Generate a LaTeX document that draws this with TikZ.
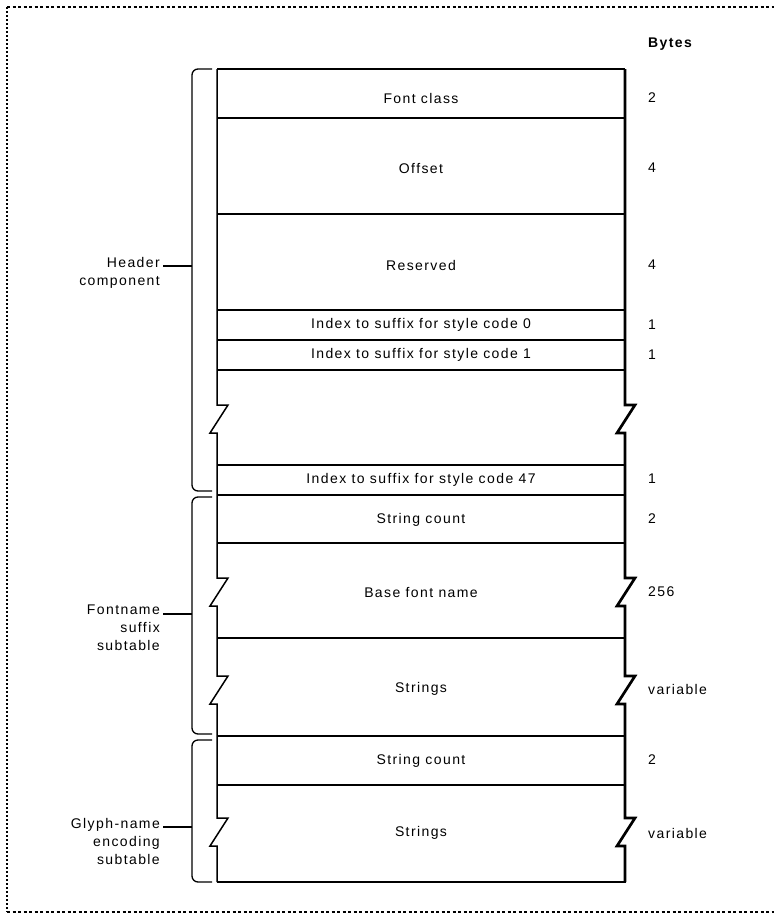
\documentclass[tikz,border=0pt]{standalone}
\usepackage{fontspec}
\setmainfont{Liberation Sans}[LetterSpace=10]
\begin{document}
\begin{tikzpicture}[x=1pt,y=-1pt,
  lbl/.style={font=\fontsize{14}{18}\selectfont, inner sep=0pt},
  cell/.style={lbl, anchor=center},
  side/.style={lbl, align=right, anchor=north east},
  bytes/.style={lbl, anchor=west},
  rowline/.style={line width=1.3pt},
  edge/.style={line width=1.5pt, line join=miter},
  heavy/.style={line width=2.7pt, line join=miter},
  brace/.style={line width=1.3pt, rounded corners=6pt},
  frameh/.style={line width=1.1pt, dash pattern=on 3pt off 2.5pt},
  framev/.style={line width=1.1pt, dash pattern=on 1.5pt off 2.5pt}]

\useasboundingbox (0,0) rectangle (774,916);

% frame
\coordinate (f1) at (7,7); \coordinate (f2) at (774,7);
\coordinate (f3) at (7,912); \coordinate (f4) at (774,912);
\draw[frameh] (f1) -- (f2);
\draw[framev] (f1) -- (f3);
\draw[frameh] (f3) -- (f4);

% table corners
\coordinate (tl) at (217,69); \coordinate (tr) at (625,69);
\coordinate (bl) at (217,882); \coordinate (br) at (625,882);

% row lines
\foreach \y in {118,214,310,340,370,465,495,543,638,736,785}
  \draw[rowline] (217,\y) -- (625,\y);

% left edge with breaks
\draw[edge] (tl) -- (217,405) -- (228,405) -- (210,433) -- (217,433)
  -- (217,578) -- (228,578) -- (210,606) -- (217,606)
  -- (217,676) -- (228,676) -- (210,704) -- (217,704)
  -- (217,818) -- (228,818) -- (210,846) -- (217,846) -- (bl);
% right edge with breaks
\draw[heavy] (tr) -- (625,405) -- (635,405) -- (617,433) -- (625,433)
  -- (625,578) -- (635,578) -- (617,606) -- (625,606)
  -- (625,676) -- (635,676) -- (617,704) -- (625,704)
  -- (625,818) -- (635,818) -- (617,846) -- (625,846) -- (br);
\draw[line width=2pt] (tl) -- (tr);
\draw[heavy] (bl) -- ([xshift=1.3pt]br);

% cell texts
\node[cell] (c1) at (421,98) {Font class};
\node[cell] (c2) at (421,168) {Offset};
\node[cell] (c3) at (421,265) {Reserved};
\node[cell] (c4) at (421,325) {Index to suffix for style code 0};
\node[cell] (c5) at (421,355) {Index to suffix for style code 1};
\node[cell] (c6) at (421,480) {Index to suffix for style code 47};
\node[cell] (c7) at (421,520) {String count};
\node[cell] (c8) at (421,592) {Base font name};
\node[cell] (c9) at (421,689) {Strings};
\node[cell] (c10) at (421,761) {String count};
\node[cell] (c11) at (421,833) {Strings};

% bytes column
\node[bytes, font=\fontsize{14}{18}\selectfont\bfseries] (bh) at (648,44) {Bytes};
\node[bytes] (b1) at (648,98) {2};
\node[bytes] (b2) at (648,168) {4};
\node[bytes] (b3) at (648,265) {4};
\node[bytes] (b4) at (648,325) {1};
\node[bytes] (b5) at (648,355) {1};
\node[bytes] (b6) at (648,479) {1};
\node[bytes] (b7) at (648,519) {2};
\node[bytes] (b8) at (648,592) {256};
\node[bytes] (b9) at (648,689) {variable};
\node[bytes] (b10) at (648,760) {2};
\node[bytes] (b11) at (648,833) {variable};

% braces
\draw[brace] (212,69) -- (192,69) -- (192,491) -- (212,491);
\draw[brace] (212,497) -- (192,497) -- (192,734) -- (212,734);
\draw[brace] (212,740) -- (192,740) -- (192,882) -- (212,882);
\coordinate (hb) at (192,266);
\coordinate (fb) at (192,614);
\coordinate (gb) at (192,827);

% side labels
\node[side] (hl) at (160,257) {Header\\component};
\node[side] (fl) at (160,605) {Fontname\\suffix\\subtable};
\node[side] (gl) at (160,818) {Glyph-name\\encoding\\subtable};
\draw[rowline] (hb) -- ([xshift=3pt]hl.east |- hb);
\draw[rowline] (fb) -- ([xshift=3pt]fl.east |- fb);
\draw[rowline] (gb) -- ([xshift=3pt]gl.east |- gb);
\end{tikzpicture}
\end{document}
